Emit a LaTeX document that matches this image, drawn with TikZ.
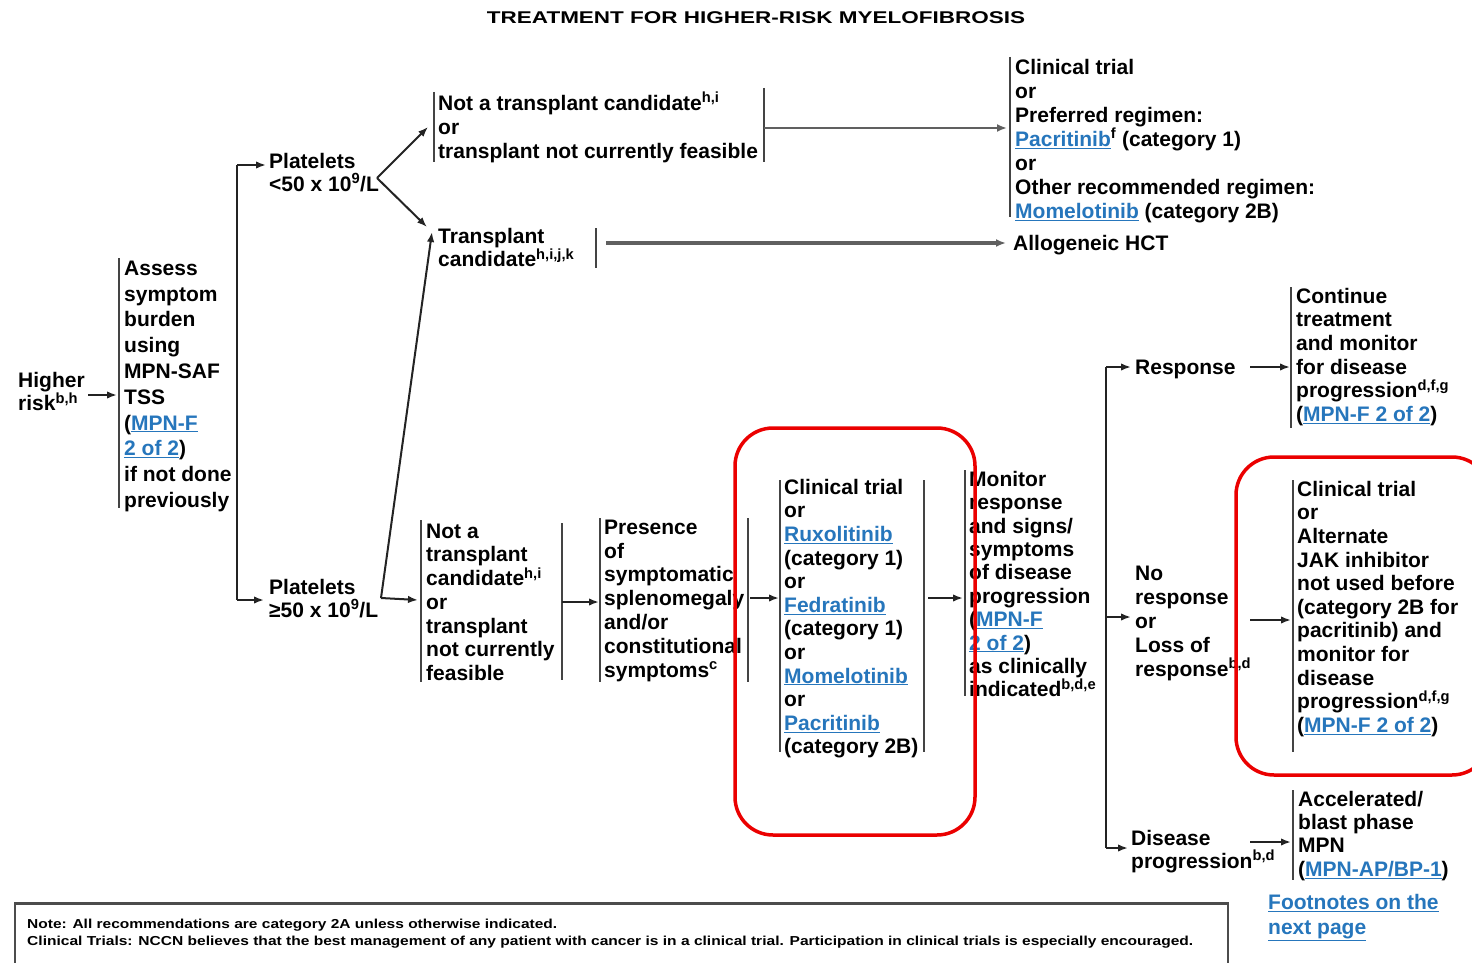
\documentclass[tikz,border=0pt]{standalone}
\usepackage{fontspec}
\usepackage{graphicx}
\setmainfont{Liberation Sans}
\usetikzlibrary{arrows.meta}
\definecolor{lnk}{RGB}{38,118,188}
\definecolor{lnc}{RGB}{35,35,35}
\definecolor{rd}{RGB}{235,0,0}
\newcommand\lkx[1]{\textcolor{lnk}{\underline{#1}}}
\newcommand\supx[1]{\textsuperscript{#1}}
\newcommand\fstrut{\rule{0pt}{19pt}}
\begin{document}
\begin{tikzpicture}[x=1pt,y=-1pt,
  tx/.style={anchor=north west,inner sep=0pt,align=left,font=\fontsize{21}{#1}\selectfont\bfseries},
  tx/.default=23.6,
  bar/.style={draw=lnc!85!white,line width=2pt},
  ln/.style={draw=lnc,line width=2pt},
  arr/.style={draw=lnc,line width=2pt,-{Latex[length=10pt,width=7.5pt]}},
  garr/.style={draw=gray!75!black,line width=#1,-{Latex[length=10pt,width=8pt]}},
  garr/.default=2.5pt,
  redbox/.style={draw=rd,line width=3.5pt,rounded corners=38pt}]
\useasboundingbox[fill=white] (0,0) rectangle (1472,963);

% title
\node[inner sep=0pt] (ti) at (756,18) {\resizebox{538pt}{\height}{\fontsize{17}{19}\selectfont\bfseries TREATMENT FOR HIGHER-RISK MYELOFIBROSIS}};

% text nodes
\node[tx] (hr) at (18,368) {\fstrut Higher\\risk\supx{b,h}};
\node[tx=25.8] (as) at (124,256) {\fstrut Assess\\symptom\\burden\\using\\MPN-SAF\\TSS\\(\lkx{MPN-F}\\\lkx{2 of 2})\\if not done\\previously};
\node[tx=23] (p1) at (269,149) {\fstrut Platelets\\<50 x 10\supx{9}/L};
\node[tx=24] (n1) at (438,91) {\fstrut Not a transplant candidate\supx{h,i}\\or\\transplant not currently feasible};
\node[tx=24] (tr) at (1015,55) {\fstrut Clinical trial\\or\\Preferred regimen:\\\lkx{Pacritinib}\supx{f} (category 1)\\or\\Other recommended regimen:\\\lkx{Momelotinib} (category 2B)};
\node[tx=19.5] (tc) at (438,224) {\fstrut Transplant\\candidate\supx{h,i,j,k}};
\node[tx] (al) at (1013,231) {\fstrut Allogeneic HCT};
\node[tx=23] (p2) at (269,575) {\fstrut Platelets\\≥50 x 10\supx{9}/L};
\node[tx=23.7] (n2) at (426,519) {\fstrut Not a\\transplant\\candidate\supx{h,i}\\or\\transplant\\not currently\\feasible};
\node[tx=23.8] (pr) at (604,515) {\fstrut Presence\\of\\symptomatic\\splenomegaly\\and/or\\constitutional\\symptoms\supx{c}};
\node[tx=23.6] (cl) at (784,475) {\fstrut Clinical trial\\or\\\lkx{Ruxolitinib}\\(category 1)\\or\\\lkx{Fedratinib}\\(category 1)\\or\\\lkx{Momelotinib}\\or\\\lkx{Pacritinib}\\(category 2B)};
\node[tx=23.4] (mo) at (969,467) {\fstrut Monitor\\response\\and signs/\\symptoms\\of disease\\progression\\(\lkx{MPN-F}\\\lkx{2 of 2})\\as clinically\\indicated\supx{b,d,e}};
\node[tx] (re) at (1135,355) {\fstrut Response};
\node[tx=23.6] (co) at (1296,284) {\fstrut Continue\\treatment\\and monitor\\for disease\\progression\supx{d,f,g}\\(\lkx{MPN-F 2 of 2})};
\node[tx=24] (nr) at (1135,561) {\fstrut No\\response\\or\\Loss of\\response\supx{b,d}};
\node[tx=23.6] (aj) at (1297,477) {\fstrut Clinical trial\\or\\Alternate\\JAK inhibitor\\not used before\\(category 2B for\\pacritinib) and\\monitor for\\disease\\progression\supx{d,f,g}\\(\lkx{MPN-F 2 of 2})};
\node[tx=23] (dp) at (1131,826) {\fstrut Disease\\progression\supx{b,d}};
\node[tx=23.3] (ac) at (1298,787) {\fstrut Accelerated/\\blast phase\\MPN\\(\lkx{MPN-AP/BP-1})};
\node[tx=25,text=lnk] (fn) at (1268,890) {\fstrut\underline{Footnotes on the}\\\underline{next page}};

% bars
\draw[bar] (119,258) -- (119,508);
\draw[bar] (434,92) -- (434,162);
\draw[bar] (764,88) -- (764,162);
\draw[bar] (1010,57) -- (1010,217);
\draw[bar] (596,228) -- (596,268);
\draw[bar] (421,520) -- (421,682);
\draw[bar] (562,523) -- (562,680);
\draw[bar] (600,518) -- (600,682);
\draw[bar] (748,518) -- (748,682);
\draw[bar] (780,480) -- (780,752);
\draw[bar] (924,480) -- (924,752);
\draw[bar] (965,470) -- (965,696);
\draw[bar] (1291,287) -- (1291,428);
\draw[bar] (1293,480) -- (1293,752);
\draw[bar] (1293,790) -- (1293,880);

% connector coordinates
\coordinate (asL) at (117,395);
\coordinate (j1) at (237,165);
\coordinate (j2) at (237,600);
\coordinate (p1c) at (377,178);
\coordinate (n1in) at (428,127);
\coordinate (tcin) at (427,227);
\coordinate (p2c) at (381,598);
\coordinate (tcup) at (432,232);
\coordinate (n2in) at (418,600);
\coordinate (n1R) at (764,128);
\coordinate (trL) at (1007,128);
\coordinate (tcR) at (606,243);
\coordinate (alL) at (1006,243);
\coordinate (n2R) at (562,602);
\coordinate (prL) at (599,602);
\coordinate (prR) at (750,598);
\coordinate (clL) at (779,598);
\coordinate (clR) at (928,598);
\coordinate (moL) at (963,598);
\coordinate (b1) at (1106,367);
\coordinate (b2) at (1106,617);
\coordinate (b3) at (1106,848);
\coordinate (reR) at (1250,367);
\coordinate (coL) at (1290,367);
\coordinate (nrR) at (1250,620);
\coordinate (ajL) at (1291,620);
\coordinate (dpR) at (1250,842);
\coordinate (acL) at (1291,842);

% connectors
\draw[arr,shorten <=3.5pt] (hr.east|-asL) -- (asL);
\draw[ln] (j1) -- (j2);
\draw[arr,shorten >=3pt] (j1) -- (p1.west|-j1);
\draw[arr,shorten >=5pt] (j2) -- (p2.west|-j2);
\draw[arr] (p1c) -- (n1in);
\draw[arr] (p1c) -- (tcin);
\draw[arr] (p2c) -- (tcup);
\draw[arr] (p2c) -- (n2in);
\draw[garr=2.5pt] (n1R) -- (trL);
\draw[garr=3.5pt] (tcR) -- (alL);
\draw[arr] (n2R) -- (prL);
\draw[arr] (prR) -- (clL);
\draw[arr] (clR) -- (moL);
\draw[ln] (b1) -- (b3);
\draw[arr,shorten >=4pt] (b1) -- (re.west|-b1);
\draw[arr,shorten >=4pt] (b2) -- (nr.west|-b2);
\draw[arr,shorten >=3pt] (b3) -- (dp.west|-b3);
\draw[arr] (reR) -- (coL);
\draw[arr] (nrR) -- (ajL);
\draw[arr] (dpR) -- (acL);

% footnote box
\draw[draw=gray!60!black,line width=1.5pt] (15,975) -- (15,903) -- (1228,903) -- (1228,975);
\draw[draw=gray!60!black,line width=3pt] (15,903) -- (1228,903);
\node[anchor=north west,inner sep=0pt,align=left,font=\fontsize{13}{17}\selectfont\bfseries] (note) at (27,919)
 {\resizebox{530pt}{\height}{Note: All recommendations are category 2A unless otherwise indicated.}\\
  \resizebox{1166pt}{\height}{Clinical Trials: NCCN believes that the best management of any patient with cancer is in a clinical trial. Participation in clinical trials is especially encouraged.}};

% red highlight boxes
\draw[redbox] (735,428) rectangle (975,835);
\draw[redbox] (1236,457) rectangle (1490,775);
\end{tikzpicture}
\end{document}
